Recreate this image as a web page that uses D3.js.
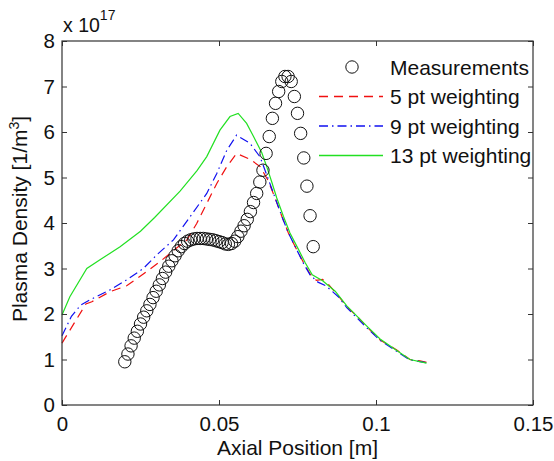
<!DOCTYPE html>
<html>
<head>
<meta charset="utf-8">
<script src="https://cdn.jsdelivr.net/npm/d3@7"></script>
<style>
  body { margin: 0; background: #fff; }
  svg { font-family: "Liberation Sans", Arial, sans-serif; }
</style>
</head>
<body>
<svg width="554" height="461"></svg>
<script>
// measurements (circles)
const measX = [0.020, 0.021, 0.022, 0.023, 0.024, 0.025, 0.026, 0.027, 0.028, 0.029,
               0.030, 0.031, 0.032, 0.033, 0.034, 0.035, 0.036, 0.037, 0.038, 0.039,
               0.040, 0.041, 0.042, 0.043, 0.044, 0.045, 0.046, 0.047, 0.048, 0.049,
               0.050, 0.051, 0.052, 0.053, 0.054, 0.055, 0.056, 0.057, 0.058, 0.059,
               0.060, 0.061, 0.062, 0.063, 0.064, 0.065, 0.066, 0.067, 0.068, 0.069,
               0.070, 0.071, 0.072, 0.073, 0.074, 0.075, 0.076, 0.077, 0.078, 0.079, 0.080];
const measY = [0.95, 1.12, 1.30, 1.47, 1.62, 1.78, 1.93, 2.07, 2.21, 2.36,
               2.50, 2.64, 2.78, 2.92, 3.05, 3.17, 3.28, 3.39, 3.48, 3.55,
               3.60, 3.63, 3.65, 3.66, 3.66, 3.66, 3.65, 3.64, 3.63, 3.61,
               3.59, 3.57, 3.54, 3.53, 3.55, 3.60, 3.70, 3.82, 3.94, 4.08,
               4.25, 4.45, 4.65, 4.90, 5.16, 5.53, 5.90, 6.30, 6.63, 6.89,
               7.11, 7.22, 7.22, 7.11, 6.78, 6.41, 5.97, 5.43, 4.81, 4.16, 3.48];

// 5 pt weighting
const red5X = [0, 0.0076, 0.0095, 0.0153, 0.0206, 0.0259, 0.0312, 0.0365, 0.0397, 0.0429,
               0.0461, 0.0493, 0.0525, 0.0556, 0.0599, 0.0631, 0.0655, 0.0670, 0.0684, 0.0700,
               0.0721, 0.0747, 0.0770, 0.0790, 0.0810, 0.0830, 0.0850, 0.0880, 0.0907, 0.0940,
               0.0970, 0.1013, 0.1066, 0.1108, 0.1140, 0.1161];
const red5Y = [1.36, 2.22, 2.27, 2.49, 2.62, 2.88, 3.15, 3.45, 3.62, 3.99,
               4.43, 4.87, 5.24, 5.53, 5.40, 5.24, 4.95, 4.70, 4.45, 4.15,
               3.78, 3.42, 3.12, 2.88, 2.74, 2.76, 2.64, 2.40, 2.16, 1.95,
               1.72, 1.43, 1.21, 1.00, 0.97, 0.94];

// 9 pt weighting
const blue9X = [0, 0.0030, 0.0060, 0.0089, 0.0153, 0.0206, 0.0259, 0.0302, 0.0355, 0.0408,
                0.0461, 0.0493, 0.0525, 0.0556, 0.0599, 0.0631, 0.0655, 0.0670, 0.0684, 0.0700,
                0.0721, 0.0747, 0.0770, 0.0790, 0.0815, 0.0840, 0.0880, 0.0907, 0.0970, 0.1013,
                0.1066, 0.1108, 0.1161];
const blue9Y = [1.52, 1.95, 2.20, 2.31, 2.53, 2.75, 3.00, 3.30, 3.63, 4.14,
                4.65, 5.09, 5.60, 5.93, 5.75, 5.45, 5.00, 4.72, 4.45, 4.15,
                3.78, 3.42, 3.10, 2.86, 2.70, 2.62, 2.38, 2.14, 1.70, 1.42,
                1.18, 0.99, 0.93];

// 13 pt weighting
const green13X = [0, 0.0025, 0.0079, 0.0121, 0.0185, 0.0250, 0.0295, 0.0376, 0.0430, 0.0461,
                  0.0503, 0.0535, 0.0561, 0.0588, 0.0610, 0.0636, 0.0652, 0.0668, 0.0684, 0.0705,
                  0.0726, 0.0753, 0.0775, 0.0797, 0.0830, 0.0870, 0.0907, 0.0970, 0.1013, 0.1066,
                  0.1108, 0.1161];
const green13Y = [1.98, 2.38, 3.00, 3.19, 3.48, 3.82, 4.12, 4.70, 5.15, 5.46,
                  6.04, 6.34, 6.41, 6.19, 5.90, 5.55, 5.24, 4.90, 4.55, 4.15,
                  3.78, 3.42, 3.12, 2.86, 2.73, 2.50, 2.18, 1.74, 1.45, 1.20,
                  1.00, 0.92];

const xTicks = [0, 0.05, 0.1, 0.15];
const xTickLabels = ['0', '0.05', '0.1', '0.15'];
const yTicks = [0, 1, 2, 3, 4, 5, 6, 7, 8];
const legendLabels = ['Measurements', '5 pt weighting', '9 pt weighting', '13 pt weighting'];

(function (d3) {
    'use strict';
    const svg = d3.select('svg');
    const left = 62, right = 533, top = 41, bottom = 405;

    const x = d3.scaleLinear().domain([0, 0.15]).range([left, right]);
    const y = d3.scaleLinear().domain([0, 8]).range([bottom, top]);

    const zip = (xs, ys) => xs.map((v, i) => [v, ys[i]]);
    const line = d3.line().x(d => x(d[0])).y(d => y(d[1]));

    const series = [
        { data: zip(red5X, red5Y), color: '#f01010', dash: '9,6' },
        { data: zip(blue9X, blue9Y), color: '#1010f0', dash: '9,4,1.5,4' },
        { data: zip(green13X, green13Y), color: '#22e022', dash: 'none' }
    ];

    const plot = svg.append('g');

    plot.selectAll('path.series').data(series)
      .enter().append('path')
        .attr('class', 'series')
        .attr('d', d => line(d.data))
        .attr('fill', 'none')
        .attr('stroke', d => d.color)
        .attr('stroke-width', 1.2)
        .attr('stroke-dasharray', d => d.dash);

    plot.selectAll('circle.meas').data(zip(measX, measY))
      .enter().append('circle')
        .attr('class', 'meas')
        .attr('cx', d => x(d[0]))
        .attr('cy', d => y(d[1]))
        .attr('r', 6.2)
        .attr('fill', 'none')
        .attr('stroke', '#111')
        .attr('stroke-width', 1);

    // axes, ticks pointing inward
    const styleAxis = g => {
        g.select('.domain').remove();
        g.selectAll('line').attr('stroke', '#333');
        g.selectAll('text').attr('fill', '#111').attr('font-size', 20.5);
    };

    svg.append('g').attr('transform', `translate(0,${bottom})`)
        .call(d3.axisBottom(x).tickValues(xTicks).tickFormat((d, i) => xTickLabels[i])
              .tickSize(-5).tickPadding(11))
        .call(styleAxis);
    svg.append('g').attr('transform', `translate(0,${top})`)
        .call(d3.axisTop(x).tickValues(xTicks).tickFormat('').tickSize(-5))
        .call(styleAxis);
    svg.append('g').attr('transform', `translate(${left},0)`)
        .call(d3.axisLeft(y).tickValues(yTicks).tickFormat(d3.format('d'))
              .tickSize(-5).tickPadding(7))
        .call(styleAxis);
    svg.append('g').attr('transform', `translate(${right},0)`)
        .call(d3.axisRight(y).tickValues(yTicks).tickFormat('').tickSize(-5))
        .call(styleAxis);

    svg.append('rect')
        .attr('x', left).attr('y', top)
        .attr('width', right - left).attr('height', bottom - top)
        .attr('fill', 'none').attr('stroke', '#333').attr('stroke-width', 1.2);

    // exponent
    const ex = svg.append('text').attr('x', 63).attr('y', 32)
        .attr('font-size', 19.5).attr('fill', '#111');
    ex.append('tspan').text('x 10');
    ex.append('tspan').attr('dy', -12).attr('font-size', 14).text('17');

    // axis labels
    svg.append('text')
        .attr('x', (left + right) / 2).attr('y', 455)
        .attr('text-anchor', 'middle').attr('font-size', 21).attr('fill', '#111')
        .text('Axial Position [m]');

    const yl = svg.append('text')
        .attr('transform', `translate(27,${(top + bottom) / 2 - 4}) rotate(-90)`)
        .attr('text-anchor', 'middle').attr('font-size', 21).attr('fill', '#111');
    yl.append('tspan').text('Plasma Density [1/m');
    yl.append('tspan').attr('dy', -8).attr('font-size', 14).text('3');
    yl.append('tspan').attr('dy', 8).text(']');

    // legend
    const legend = svg.append('g');
    const rowY = i => 67 + i * 29.5;
    legend.append('circle')
        .attr('cx', 352).attr('cy', rowY(0)).attr('r', 6.2)
        .attr('fill', 'none').attr('stroke', '#111');
    legend.selectAll('line.key').data(series)
      .enter().append('line')
        .attr('class', 'key')
        .attr('x1', 319).attr('x2', 383)
        .attr('y1', (d, i) => rowY(i + 1)).attr('y2', (d, i) => rowY(i + 1))
        .style('stroke', d => d.color)
        .attr('stroke-width', 1.4)
        .attr('stroke-dasharray', d => d.dash);
    legend.selectAll('text').data(legendLabels)
      .enter().append('text')
        .attr('x', 390).attr('y', (d, i) => rowY(i))
        .attr('dy', '0.36em')
        .attr('font-size', 21).attr('fill', '#111')
        .text(d => d);
}(d3));
</script>
</body>
</html>
